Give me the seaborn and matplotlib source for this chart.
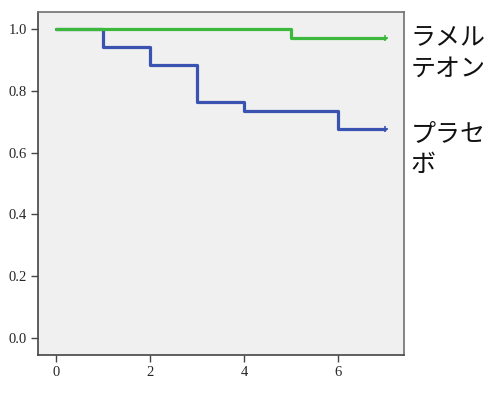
import pandas as pd
import seaborn as sns
import matplotlib.pyplot as plt

# Kaplan-Meier step values
groups = ['プラセボ', 'ラメルテオン']
label_lines = [['プラセ', 'ボ'], ['ラメル', 'テオン']]
pla_time = [0, 1, 2, 3, 4, 6, 7]
pla_surv = [1.0, 0.941, 0.882, 0.765, 0.735, 0.676, 0.676]
ram_time = [0, 5, 7]
ram_surv = [1.0, 0.971, 0.971]
colors = ['#3a52b0', '#3cb93c']

df = pd.concat([
    pd.DataFrame({'time': pla_time, 'surv': pla_surv, 'group': groups[0]}),
    pd.DataFrame({'time': ram_time, 'surv': ram_surv, 'group': groups[1]}),
])

sns.set_style('white')
plt.rcParams['font.family'] = ['Noto Sans CJK JP', 'DejaVu Sans']

fig = plt.figure(figsize=(4.91, 4.04), dpi=100)
ax = fig.add_axes([38 / 491, 1 - 355 / 404, 366 / 491, 343 / 404])
ax.set_facecolor('#f0f0f0')

# placebo first so the green line sits on top where they overlap
sns.lineplot(data=df, x='time', y='surv', hue='group', hue_order=groups,
             palette=colors, drawstyle='steps-post', linewidth=2.3,
             legend=False, ax=ax)

# censor marks at the last follow-up
for g, c in zip(groups, colors):
    last = df[df['group'] == g].iloc[-1]
    ax.plot(last['time'], last['surv'], marker='+', color=c, markersize=5, mew=1.2)

ax.set_xlim(-0.38, 7.4)
ax.set_ylim(-0.055, 1.055)
ax.set_xticks([0, 2, 4, 6])
ax.set_yticks([0.0, 0.2, 0.4, 0.6, 0.8, 1.0])
ax.set_xticklabels(['0', '2', '4', '6'], family='Liberation Serif', fontsize=10.5)
ax.set_yticklabels(['0.0', '0.2', '0.4', '0.6', '0.8', '1.0'], family='Liberation Serif', fontsize=10.5)
ax.tick_params(axis='both', direction='out', length=5, width=1, color='#444444',
               left=True, bottom=True, pad=3)
ax.set_xlabel('')
ax.set_ylabel('')
for s in ax.spines.values():
    s.set_color('#707070')
    s.set_linewidth(1.2)
ax.spines['left'].set_color('#444444')
ax.spines['bottom'].set_color('#444444')

# group labels to the right of the plot
for lines, y, dy in zip(label_lines, [pla_surv[-1], ram_surv[-1]], [-3.6, 0.6]):
    for i, txt in enumerate(lines):
        ax.annotate(txt, xy=(1.0, y), xycoords=('axes fraction', 'data'),
                    xytext=(5, dy - i * 22.5), textcoords='offset points',
                    va='center', ha='left', fontsize=18, color='#111111',
                    annotation_clip=False)

fig.savefig('out.png', dpi=100)
